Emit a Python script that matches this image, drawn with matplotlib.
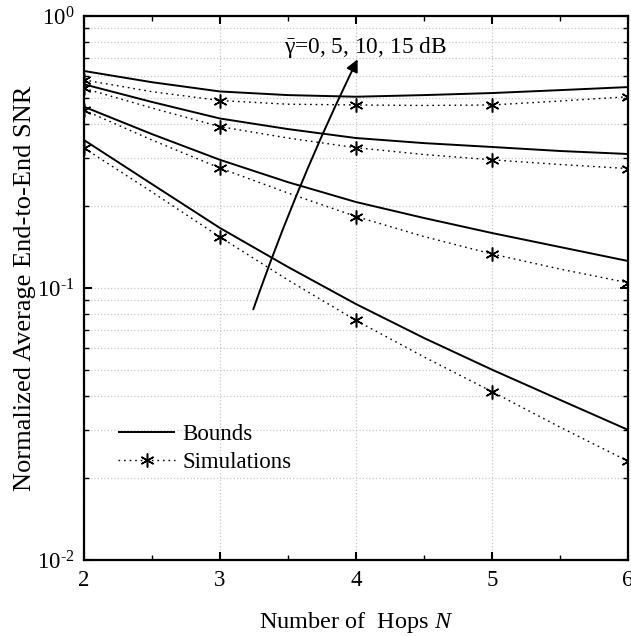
import matplotlib
matplotlib.use('Agg')
import matplotlib.pyplot as plt
from matplotlib.ticker import FixedLocator, FuncFormatter
import numpy as np

plt.rcParams['font.family'] = ['Liberation Serif', 'DejaVu Serif']
plt.rcParams['mathtext.fontset'] = 'custom'
plt.rcParams['mathtext.rm'] = 'Liberation Serif'
plt.rcParams['mathtext.it'] = 'Liberation Serif:italic'
plt.rcParams['mathtext.bf'] = 'Liberation Serif:bold'

# number of hops (values read at integer and half steps)
hops = [2, 2.5, 3, 3.5, 4, 4.5, 5, 5.5, 6]

# bounds, gamma = 15, 10, 5, 0 dB (top to bottom)
bound_15 = [0.628, 0.571, 0.528, 0.512, 0.505, 0.512, 0.521, 0.534, 0.548]
bound_10 = [0.561, 0.483, 0.420, 0.384, 0.356, 0.341, 0.330, 0.319, 0.311]
bound_5 = [0.464, 0.368, 0.296, 0.245, 0.2071, 0.1809, 0.1593, 0.1415, 0.1257]
bound_0 = [0.350, 0.241, 0.1662, 0.1195, 0.0873, 0.0655, 0.0501, 0.0388, 0.0301]

# simulations
sim_15 = [0.582, 0.527, 0.489, 0.474, 0.471, 0.469, 0.471, 0.487, 0.505]
sim_10 = [0.542, 0.459, 0.392, 0.356, 0.328, 0.3096, 0.296, 0.2845, 0.275]
sim_5 = [0.451, 0.350, 0.276, 0.2235, 0.1832, 0.1546, 0.1334, 0.1174, 0.1046]
sim_0 = [0.327, 0.2254, 0.154, 0.1070, 0.0760, 0.0558, 0.0416, 0.0308, 0.0231]

bounds = [bound_15, bound_10, bound_5, bound_0]
sims = [sim_15, sim_10, sim_5, sim_0]

fig = plt.figure(figsize=(6.31, 6.36), dpi=100)
ax = fig.add_axes([0.1331, 0.1195, 0.8621, 0.8553])

star = (6, 2, 0)
for i in range(4):
    ax.plot(hops, bounds[i], color='black', lw=1.4, solid_capstyle='butt',
            label='Bounds' if i == 0 else None)
    ax.plot(hops, sims[i], color='black', lw=1.0, linestyle=(0, (1.2, 2.8)),
            marker=star, markersize=10, markeredgewidth=1.1, markevery=2,
            label='Simulations' if i == 0 else None)

ax.set_yscale('log')
ax.set_xlim(2, 6)
ax.set_ylim(1e-2, 1e0)
ax.set_xticks([2, 3, 4, 5, 6])
ax.set_xticks([2.5, 3.5, 4.5, 5.5], minor=True)


def ylab(v, pos):
    e = int(round(np.log10(v)))
    if e == 0:
        return r'$10^{0}$'
    return r'$10^{\mathrm{' + '\u2010' + str(-e) + '}}$'


ax.yaxis.set_major_formatter(FuncFormatter(ylab))

ax.grid(True, which='major', axis='x', color='#c8c8c8', linestyle=':', lw=0.9)
ax.grid(True, which='both', axis='y', color='#c8c8c8', linestyle=':', lw=0.9)

ax.tick_params(which='both', direction='in', top=True, right=True, labelsize=16.5)
ax.tick_params(which='major', length=6, width=1.5, pad=7)
ax.tick_params(which='minor', length=3.5, width=1.0)
ax.tick_params(axis='y', which='minor', labelleft=False)
for s in ax.spines.values():
    s.set_linewidth(1.6)

ax.set_xlabel('Number of  Hops $N$', fontsize=17.5, labelpad=14)
ax.set_ylabel('Normalized Average End-to-End SNR', fontsize=19)
ax.yaxis.set_label_coords(-0.088, 0.5)

ax.annotate('', xy=(4.012, 0.693), xytext=(3.245, 0.0835),
            arrowprops=dict(arrowstyle='-|>', color='black', lw=1.4,
                            mutation_scale=18, shrinkA=0, shrinkB=0,
                            connectionstyle='arc3,rad=-0.03'))
ax.text(4.066, 0.769, r'$\bar{\mathrm{\gamma}}$=0, 5, 10, 15 dB', fontsize=16.8,
        ha='center', va='center')

leg = ax.legend(loc='lower left', bbox_to_anchor=(0.033, 0.13), frameon=False,
                fontsize=16.5, handlelength=2.5, handletextpad=0.3,
                labelspacing=0.3, borderpad=0.2, numpoints=1)

fig.savefig('out.png', dpi=100)
